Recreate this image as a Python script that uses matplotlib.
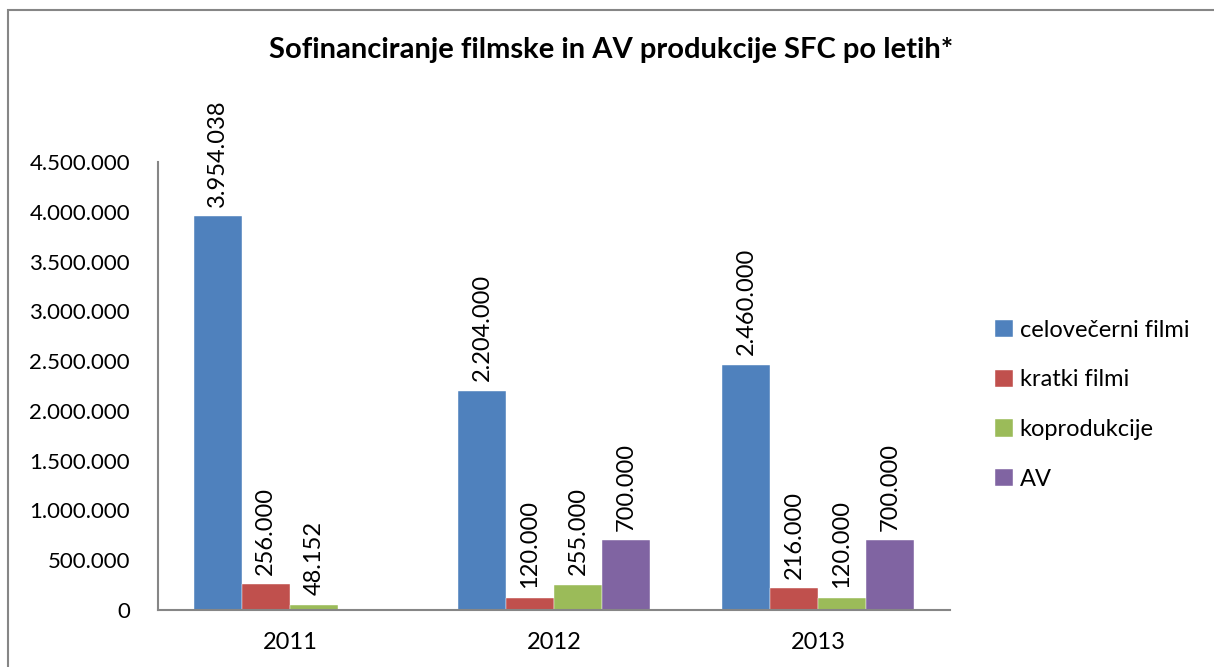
import numpy as np
import matplotlib
matplotlib.use("Agg")
import matplotlib.pyplot as plt
from matplotlib.patches import Rectangle

plt.rcParams['font.family'] = ['Lato', 'DejaVu Sans']

# data
years = ['2011', '2012', '2013']
series_names = ['celovečerni filmi', 'kratki filmi', 'koprodukcije', 'AV']
celovecerni = [3954038, 2204000, 2460000]
kratki = [256000, 120000, 216000]
koprodukcije = [48152, 255000, 120000]
av = [np.nan, 700000, 700000]
colors = ['#4F81BD', '#C0504D', '#9BBB59', '#8064A2']


def fmt(v):
    return f'{int(v):,}'.replace(',', '.')


fig = plt.figure(figsize=(12.14, 6.67), dpi=100)
ax = fig.add_axes([0.130, 0.0855, 0.6525, 0.6715])

x = np.arange(len(years))
w = 1 / 5.5
all_series = [celovecerni, kratki, koprodukcije, av]
for i, (vals, name, col) in enumerate(zip(all_series, series_names, colors)):
    pos = x + (i - 1.5) * w
    ax.bar(pos, np.nan_to_num(vals), width=w, color=col, label=name,
           edgecolor='white', linewidth=0.3)
    for px, v in zip(pos, vals):
        if np.isnan(v):
            continue
        ax.annotate(fmt(v), (px, v), xytext=(0, 7), textcoords='offset points',
                    rotation=90, ha='center', va='bottom', fontsize=17)

ax.set_xlim(-0.5, 2.5)
ax.set_ylim(0, 4500000)
ax.set_yticks(np.arange(0, 4500001, 500000))
ax.set_yticklabels([fmt(v) for v in np.arange(0, 4500001, 500000)])
ax.set_xticks(x)
ax.set_xticklabels(years)
ax.tick_params(axis='both', length=0, labelsize=17)
ax.tick_params(axis='y', pad=20, labelsize=16)
ax.tick_params(axis='x', pad=16)
for s in ['top', 'right']:
    ax.spines[s].set_visible(False)
for s in ['left', 'bottom']:
    ax.spines[s].set_color('#868686')
    ax.spines[s].set_linewidth(1.5)

fig.text(0.503, 0.925, 'Sofinanciranje filmske in AV produkcije SFC po letih*',
         ha='center', va='center', fontsize=21, fontweight='bold')

ax.legend(loc='center left', bbox_to_anchor=(1.03, 0.458), frameon=False,
          fontsize=17, handlelength=0.75, handleheight=0.75, labelspacing=1.22,
          handletextpad=0.3)

# outer chart border (cropped on right and bottom in the reference)
fig.patches.append(Rectangle((8 / 1214, -0.1), 1.5, 1 - 10 / 667 + 0.1,
                             transform=fig.transFigure, fill=False,
                             edgecolor='#868686', linewidth=1.5))

fig.savefig('out.png', dpi=100)
